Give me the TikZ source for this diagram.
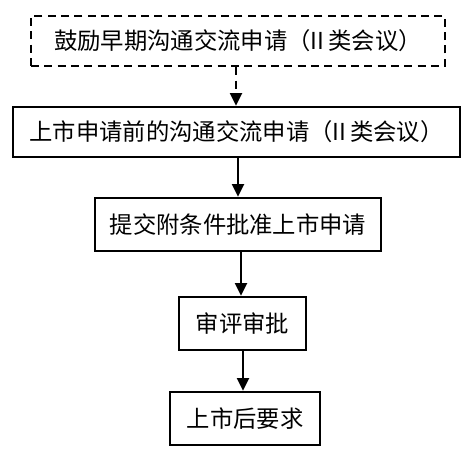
\documentclass[tikz,border=0pt]{standalone}
\usepackage{fontspec}
\setmainfont{Noto Sans CJK SC}
\usetikzlibrary{arrows.meta}
\tikzset{
	stagebox/.style={draw=black, line width=1.8pt, fill=white, inner sep=0pt, font=\fontsize{17.5pt}{20pt}\selectfont},
	flowarrow/.style={-{Triangle[width=9pt,length=9.5pt]}, line width=1.6pt},
}
\begin{document}
\begin{tikzpicture}[x=0.75pt, y=-0.75pt]
		\useasboundingbox (0,0) rectangle (472,458);
		\node[stagebox, dash pattern=on 6pt off 4pt, minimum width=310.5pt, minimum height=37.5pt](early) at (238,41){鼓励早期沟通交流申请（II\,类会议）};
		\node[stagebox, minimum width=335.25pt, minimum height=37.5pt](pre) at (236.5,132){上市申请前的沟通交流申请（II\,类会议）};
		\node[stagebox, minimum width=214.5pt, minimum height=39.75pt](submit) at (238,224.5){提交附条件批准上市申请};
		\node[stagebox, minimum width=95.25pt, minimum height=39.75pt](review) at (242.5,323.5){审评审批};
		\node[stagebox, minimum width=112.5pt, minimum height=39.75pt](post) at (245,418.5){上市后要求};

		\draw [flowarrow, dash pattern=on 6pt off 4pt] (early.south -| 236,0) -- (pre.north -| 236,0);
		\draw [flowarrow] (pre.south -| 238,0) -- (submit.north -| 238,0);
		\draw [flowarrow] (submit.south -| 241,0) -- (review.north -| 241,0);
		\draw [flowarrow] (review.south -| 243,0) -- (post.north -| 243,0);
	\end{tikzpicture}
\end{document}
